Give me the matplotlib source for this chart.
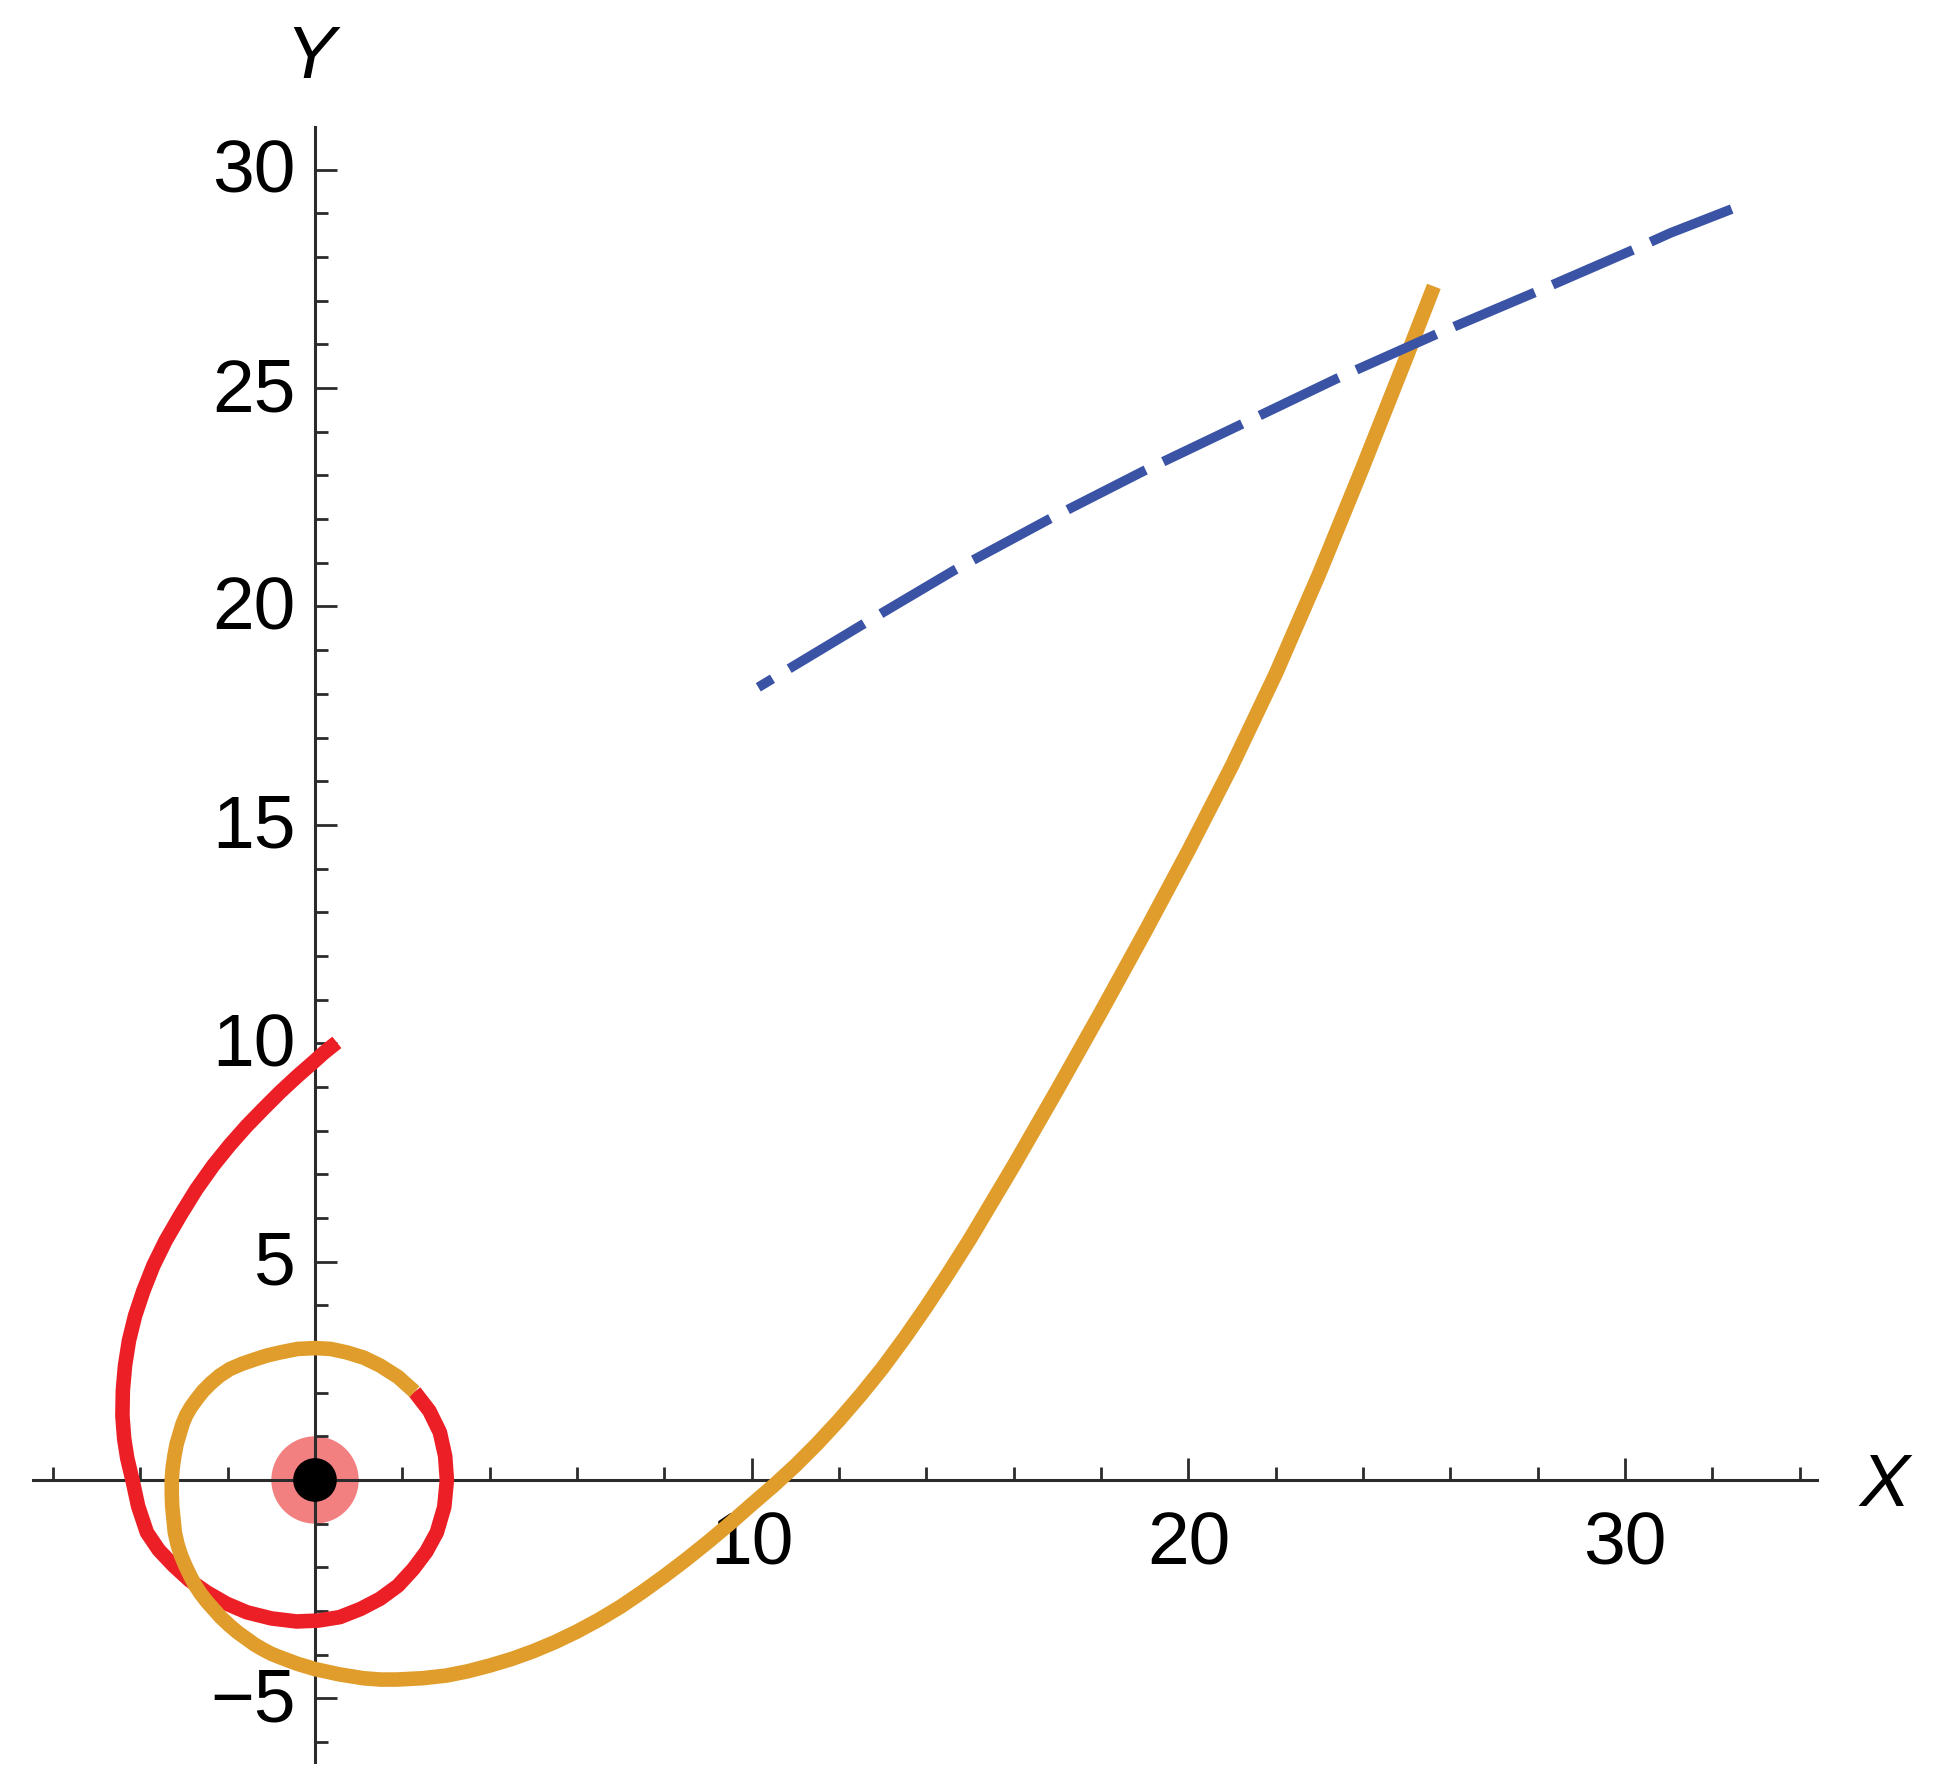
import matplotlib
matplotlib.use("Agg")
import matplotlib.pyplot as plt
from matplotlib.patches import Circle
from matplotlib.ticker import FixedLocator, FixedFormatter
from matplotlib.transforms import ScaledTranslation

plt.rcParams['font.family'] = ['Liberation Sans', 'DejaVu Sans']
plt.rcParams['lines.scale_dashes'] = False

# red spiral (inner part of the trajectory)
red_x = [0.50, 0.20, 0.00, -0.40, -0.80, -1.18, -1.56, -1.95, -2.33, -2.72, -3.09,
         -3.42, -3.70, -3.93, -4.12, -4.26, -4.35, -4.40, -4.41, -4.37, -4.30,
         -4.18, -4.05, -3.85, -3.58, -3.24, -2.88, -2.48, -2.03, -1.56, -1.00,
         -0.42, 0.07, 0.57, 1.05, 1.49, 1.90, 2.25, 2.55, 2.79, 2.96, 3.02, 2.98,
         2.86, 2.62, 2.28]
red_y = [10.02, 9.78, 9.60, 9.25, 8.88, 8.50, 8.11, 7.67, 7.20, 6.65, 6.05,
         5.48, 4.91, 4.33, 3.76, 3.19, 2.62, 2.05, 1.47, 0.95, 0.50,
         0.00, -0.60, -1.20, -1.60, -1.96, -2.29, -2.57, -2.83, -3.03, -3.17,
         -3.24, -3.22, -3.14, -2.95, -2.72, -2.42, -2.04, -1.64, -1.20, -0.62, 0.00, 0.55,
         1.09, 1.58, 2.02]

# orange continuation
orange_x = [2.28, 1.90, 1.49, 1.12, 0.73, 0.36, 0.00, -0.40, -0.80, -1.10, -1.38,
            -1.67, -1.95, -2.18, -2.38, -2.56, -2.71, -2.84, -2.95, -3.03, -3.09,
            -3.17, -3.22, -3.26, -3.28, -3.28, -3.27, -3.24, -3.21, -3.15, -3.07,
            -2.97, -2.86, -2.75, -2.62, -2.48, -2.33, -2.16, -1.97, -1.77, -1.56,
            -1.38, -1.19, -1.00, -0.80, -0.40, 0.00, 0.55, 1.11, 1.50, 1.87, 2.45,
            3.00, 3.50, 4.00, 4.50, 5.00, 5.50, 6.00, 6.50, 7.00, 7.50, 8.00,
            8.50, 9.00, 9.50, 10.00, 10.50, 11.00, 11.50, 12.00, 12.50, 13.00,
            13.50, 14.00, 14.50, 15.00, 16.00, 17.00, 18.00, 19.00, 20.00, 21.00,
            22.00, 23.00, 24.00, 25.00, 25.62]
orange_y = [2.02, 2.36, 2.62, 2.80, 2.92, 3.00, 3.02, 3.00, 2.92, 2.85, 2.76,
            2.66, 2.54, 2.39, 2.22, 2.04, 1.85, 1.67, 1.48, 1.29, 1.09,
            0.82, 0.55, 0.27, 0.00, -0.30, -0.60, -0.90, -1.20, -1.47, -1.72,
            -1.96, -2.19, -2.40, -2.60, -2.78, -2.95, -3.14, -3.32, -3.49, -3.64,
            -3.77, -3.88, -3.98, -4.06, -4.21, -4.33, -4.45, -4.54, -4.57, -4.57, -4.54,
            -4.48, -4.38, -4.25, -4.10, -3.92, -3.71, -3.47, -3.20, -2.90, -2.56, -2.20,
            -1.82, -1.42, -1.00, -0.56, -0.13, 0.33, 0.83, 1.37, 1.95, 2.57,
            3.25, 3.97, 4.73, 5.52, 7.20, 8.94, 10.72, 12.54, 14.41, 16.36,
            18.46, 20.76, 23.21, 25.73, 27.33]

# blue dashed curve, listed from its upper-right end
blue_x = [32.44, 31.03, 30.19, 28.00, 25.69, 23.40, 21.00, 18.97, 16.83, 14.62, 12.56, 10.15]
blue_y = [29.10, 28.55, 28.17, 27.22, 26.24, 25.22, 24.07, 23.10, 22.01, 20.82, 19.60, 18.15]

x_major = [10, 20, 30]
x_minor = [-6, -4, -2, 2, 4, 6, 8, 12, 14, 16, 18, 22, 24, 26, 28, 32, 34]
y_major = [-5, 5, 10, 15, 20, 25, 30]
y_minor = [v for v in range(-6, 31) if v % 5 != 0]
x_labels = ["10", "20", "30"]
y_labels = ["\u22125", "5", "10", "15", "20", "25", "30"]

fig = plt.figure(figsize=(19.4, 17.9), dpi=100)
ax = fig.add_axes([0, 0, 1, 1])
ax.set_xlim(-7.213, 37.21)
ax.set_ylim(-7.076, 33.91)
ax.patch.set_visible(False)

axis_col = "#2b2b2b"
for s in ["top", "right"]:
    ax.spines[s].set_visible(False)
ax.spines["left"].set_position(("data", 0))
ax.spines["bottom"].set_position(("data", 0))
ax.spines["bottom"].set_bounds(-6.46, 34.39)
ax.spines["left"].set_bounds(-6.46, 30.98)
for s in ["left", "bottom"]:
    ax.spines[s].set_linewidth(2.2)
    ax.spines[s].set_color(axis_col)

ax.xaxis.set_major_locator(FixedLocator(x_major))
ax.xaxis.set_major_formatter(FixedFormatter(x_labels))
ax.xaxis.set_minor_locator(FixedLocator(x_minor))
ax.yaxis.set_major_locator(FixedLocator(y_major))
ax.yaxis.set_major_formatter(FixedFormatter(y_labels))
ax.yaxis.set_minor_locator(FixedLocator(y_minor))

ax.tick_params(which="both", direction="in", color=axis_col, width=2.0,
               labelsize=54, labelcolor="black")
ax.tick_params(which="major", length=15.5)
ax.tick_params(which="minor", length=9.4)
ax.tick_params(axis="x", which="major", pad=21)
ax.tick_params(axis="y", which="major", pad=14)

# nudge y tick labels up a little
shift = ScaledTranslation(0, 0.05, fig.dpi_scale_trans)
for lab in ax.get_yticklabels():
    lab.set_transform(lab.get_transform() + shift)

# curves
ax.plot(red_x, red_y, color="#ED1F26", lw=10.5, solid_capstyle="butt",
        solid_joinstyle="round", zorder=3)
ax.plot(orange_x, orange_y, color="#E09D2B", lw=10.5, solid_capstyle="butt",
        solid_joinstyle="round", zorder=4)
ax.plot(blue_x, blue_y, color="#3A53A5", lw=7.0, dashes=(63.0, 14.0),
        dash_capstyle="butt", zorder=5)

# central body
ax.add_patch(Circle((0, 0), 1.0, color="#F38081", lw=0, zorder=1))
ax.add_patch(Circle((0, 0), 0.5, color="black", lw=0, zorder=6))

ax.text(35.93, 0.05, "X", fontsize=54, style="italic", ha="center", va="center_baseline")
ax.text(-0.12, 32.75, "Y", fontsize=54, style="italic", ha="center", va="center_baseline")

fig.savefig("out.png", dpi=100)
